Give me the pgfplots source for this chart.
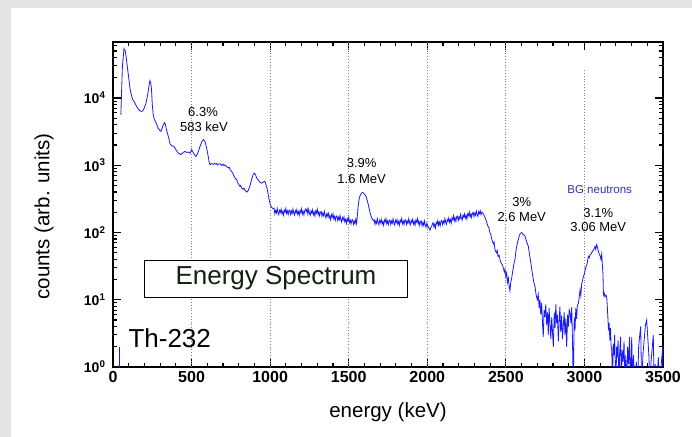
\documentclass[border=0pt]{standalone}
\usepackage{fontspec}
\setmainfont{Liberation Sans}
\usepackage{pgfplots}
\usepackage{pgfplotstable}
\pgfplotsset{compat=1.18}
\definecolor{spec}{RGB}{25,25,250}
\definecolor{bgn}{RGB}{50,50,190}
\definecolor{esp}{RGB}{15,35,15}
\definecolor{framegray}{RGB}{228,228,228}
\pgfplotstableread{
x y
50 5650
60 30000
70 54000
78 50000
84 40000
92 28000
100 20000
108 14000
115 11500
125 9500
135 8800
150 7500
165 6600
180 6300
190 6450
200 7200
210 8400
220 11000
228 14500
235 18100
240 17000
245 13500
250 8000
256 5600
263 4800
275 4200
288 3550
297 3300
305 3200
312 3500
320 3980
327 4300
333 4100
340 3400
346 3020
355 2500
363 2070
375 1950
388 1900
400 1700
416 1510
425 1480
431 1435
440 1500
450 1560
458 1610
468 1550
479 1570
490 1510
501 1700
508 1580
515 1470
522 1400
528 1350
536 1450
543 1610
550 1800
558 2020
566 2250
575 2400
585 2260
596 1800
606 1350
612 1100
617 1020
628 1060
638 1030
645 1070
650 1040
660 1060
665 1010
670 1040
681 1050
692 990
700 1040
707 980
713 1010
722 960
734 910
740 930
745 860
755 810
762 760
770 690
778 640
787 610
795 540
800 520
808 486
813 500
818 460
828 440
834 455
840 425
846 410
851 400
860 420
870 480
878 560
885 650
893 740
900 760
907 720
915 640
925 600
935 560
946 540
955 560
962 575
967 570
973 520
978 480
985 400
992 320
999 270
1004 250
1010 235
1015 230
1020 225
1025 230
1030 189
1035 211
1040 195
1045 228
1050 198
1055 184
1060 214
1065 200
1070 222
1075 190
1080 205
1085 181
1090 215
1095 201
1100 227
1105 191
1110 209
1115 185
1120 213
1125 216
1130 186
1135 208
1140 192
1145 224
1150 196
1155 182
1160 211
1165 197
1170 219
1175 187
1180 203
1185 179
1190 213
1195 198
1200 224
1205 188
1210 206
1215 182
1220 210
1225 222
1230 205
1235 225
1240 189
1245 221
1250 193
1255 179
1260 209
1265 195
1270 217
1275 184
1280 200
1285 176
1290 210
1295 196
1300 222
1305 185
1310 201
1315 177
1320 202
1325 204
1330 174
1335 194
1340 178
1345 205
1350 178
1355 164
1360 190
1365 176
1370 194
1375 165
1380 177
1385 155
1390 183
1395 169
1400 190
1405 159
1410 173
1415 152
1420 174
1425 177
1430 151
1435 168
1440 154
1445 179
1450 155
1455 143
1460 166
1465 154
1470 170
1475 144
1480 156
1485 136
1490 161
1495 149
1500 168
1505 140
1510 152
1515 134
1520 153
1525 155
1530 132
1535 147
1540 135
1545 157
1550 136
1555 180
1561 260
1568 330
1575 365
1582 385
1589 395
1596 380
1603 365
1610 345
1618 300
1626 250
1636 195
1646 165
1657 150
1662 154
1667 132
1672 148
1677 137
1682 160
1687 140
1692 130
1697 151
1702 141
1707 157
1712 134
1717 145
1722 128
1727 153
1732 143
1737 161
1742 135
1747 148
1752 131
1757 151
1762 154
1767 132
1772 148
1777 137
1782 160
1787 140
1792 130
1797 151
1802 141
1807 157
1812 134
1817 145
1822 128
1827 153
1832 143
1837 161
1842 135
1847 148
1852 131
1857 151
1862 154
1867 132
1872 148
1877 137
1882 160
1887 140
1892 130
1897 151
1902 141
1907 157
1912 134
1917 145
1922 128
1927 153
1932 143
1937 161
1942 135
1947 148
1952 127
1957 146
1962 148
1967 126
1972 140
1977 128
1982 149
1987 129
1992 119
1997 138
2002 125
2007 122
2012 115
2017 108
2022 118
2027 122
2032 133
2037 140
2042 121
2047 132
2052 117
2057 141
2062 133
2067 151
2072 128
2077 142
2082 126
2087 147
2092 151
2097 131
2102 147
2107 137
2112 161
2117 142
2122 133
2127 156
2132 147
2137 165
2142 142
2147 155
2152 137
2157 165
2162 155
2167 177
2172 149
2177 165
2182 147
2187 171
2192 175
2197 151
2202 171
2207 159
2212 186
2217 164
2222 153
2227 180
2232 169
2237 189
2242 163
2247 178
2252 158
2257 189
2262 178
2267 202
2272 171
2277 188
2282 167
2287 194
2292 199
2297 172
2302 194
2307 180
2312 208
2317 186
2322 174
2327 204
2332 191
2337 210
2342 184
2347 200
2352 195
2357 188
2362 178
2367 168
2374 153
2385 125
2392 118
2399 98
2405 92
2410 80
2420 68
2425 72
2431 55
2440 50
2445 54
2450 44
2457 46
2463 39
2470 35
2478 33
2485 29
2490 26
2494 28
2500 22
2505 25
2510 18
2516 21
2521 16
2526 13.5
2531 18
2537 21
2545 28
2552 35
2558 40
2565 55
2572 68
2579 78
2586 90
2593 97
2601 100
2608 94
2615 92
2622 88
2630 75
2637 68
2643 62
2650 48
2657 38
2665 28
2672 22
2678 18
2686 15.5
2692 12
2700 10
2706 12
2712 7.5
2717 10
2722 6
2728 9
2733 4.5
2738 2.8
2743 7
2748 5.5
2754 8.5
2760 4.2
2765 6.5
2770 3
2775 7.5
2780 4.8
2786 2.6
2792 5.5
2797 3.2
2802 2.0
2808 6.5
2813 3.8
2818 8.5
2823 4.5
2828 6.0
2834 2.4
2839 5.0
2844 7.9
2849 3.3
2855 5.8
2860 2.6
2866 4.3
2871 6.5
2876 3.0
2882 5.2
2887 2.0
2893 6.0
2898 4.0
2903 7.1
2908 6.5
2914 4.5
2919 7.8
2924 2.4
2929 0.5
2935 5.5
2940 3.5
2945 7.5
2950 5.2
2955 8.0
2961 8.9
2966 10.5
2972 14
2977 11.5
2982 17
2987 19
2993 22
3000 24.5
3008 30
3015 33
3020 38
3025 44
3030 42
3035 46
3042 48
3050 52
3057 55
3063 58
3067 62
3072 56
3078 66
3083 60
3089 52
3095 47
3100 45
3105 40
3110 48
3114 33
3118 24
3121 11.7
3126 12.5
3131 11.0
3137 11.7
3142 11
3146 7.5
3150 5
3153 3.5
3157 4.5
3162 2.5
3166 3.8
3170 2.0
3174 1.8
3178 0.5
3183 2.2
3188 1.5
3192 3.0
3196 1.2
3200 0.5
3205 2.0
3210 1.4
3214 2.5
3219 0.5
3224 1.6
3230 2.8
3235 0.5
3240 1.8
3246 1.2
3252 2.4
3258 0.5
3263 1.5
3270 0.5
3275 2.0
3281 1.1
3287 2.8
3292 0.5
3301 2.8
3306 0.5
3312 1.5
3320 0.5
3330 1.2
3338 0.5
3345 2.0
3352 3.0
3358 4.0
3364 0.5
3372 1.5
3380 2.5
3388 4.2
3396 5.0
3402 3.0
3410 1.5
3417 0.5
3424 1.2
3432 2.0
3438 3.0
3444 0.5
3450 1.1
3460 0.5
3470 1.4
3480 0.5
3490 1.2
3498 2.0
3500 0.5
}\spectrum
\begin{document}
\begin{tikzpicture}[x=1bp,y=1bp]
\fill[framegray] (0,0) rectangle (692,437);
\fill[white] (11,0) rectangle (692,429);
\begin{axis}[
  at={(113bp,70bp)}, anchor=south west,
  scale only axis, width=550bp, height=325bp,
  xmin=0, xmax=3500, ymode=log, ymin=1, ymax=68000,
  xtick={0,500,1000,1500,2000,2500,3000,3500},
  xticklabels={0,500,1000,1500,2000,2500,3000,3500},
  minor x tick num=4,
  ytick={1,10,100,1000,10000},
  yticklabels={10\textsuperscript{0},10\textsuperscript{1},10\textsuperscript{2},10\textsuperscript{3},10\textsuperscript{4}},
  minor ytick={2,3,4,5,6,7,8,9,20,30,40,50,60,70,80,90,200,300,400,500,600,700,800,900,2000,3000,4000,5000,6000,7000,8000,9000,20000,30000,40000,50000,60000},
  axis line style={line width=1.6bp},
  major tick length=8bp, minor tick length=4bp,
  every tick/.style={black, line width=1.1bp},
  xticklabel style={font=\bfseries\fontsize{16bp}{18bp}\selectfont, yshift=-1bp},
  yticklabel style={font=\bfseries\fontsize{14bp}{16bp}\selectfont, xshift=-4bp},
]
\draw[dotted, gray, line width=0.8bp] (axis cs:500,1) -- (axis cs:500,68000);
\draw[dotted, gray, line width=0.8bp] (axis cs:1000,1) -- (axis cs:1000,68000);
\draw[dotted, gray, line width=0.8bp] (axis cs:1500,1) -- (axis cs:1500,68000);
\draw[dotted, gray, line width=0.8bp] (axis cs:2000,1) -- (axis cs:2000,68000);
\draw[dotted, gray, line width=0.8bp] (axis cs:2500,1) -- (axis cs:2500,68000);
\draw[dotted, gray, line width=0.8bp] (axis cs:3000,1) -- (axis cs:3000,26000);
\addplot[spec, line width=0.8bp] coordinates {(40,0.5) (40,2)};
\addplot[spec, line width=0.8bp] table[x=x,y=y] {\spectrum};
\end{axis}
\tikzset{ann/.style={inner sep=0pt, font=\fontsize{13bp}{15bp}\selectfont}}
\node[ann] at (203,325) {6.3\%};
\node[ann] at (204,310) {583 keV};
\node[ann] at (361.7,273.7) {3.9\%};
\node[ann] at (361.7,257.7) {1.6 MeV};
\node[ann] at (521.7,235.3) {3\%};
\node[ann] at (521.7,219.7) {2.6 MeV};
\node[inner sep=0pt, font=\fontsize{11.5bp}{13bp}\selectfont, text=bgn] at (599.7,247.7) {BG neutrons};
\node[ann] at (598.3,224.3) {3.1\%};
\node[ann] at (598.3,209.7) {3.06 MeV};
\draw[line width=1bp, fill=white] (144,139.7) rectangle (407.7,176.3);
\node[inner sep=0pt, text=esp, font=\fontsize{26bp}{30bp}\selectfont] at (276,159) {Energy Spectrum};
\node[inner sep=0pt, anchor=base west, font=\fontsize{26bp}{30bp}\selectfont] at (128.3,89.7) {Th-232};
\node[inner sep=0pt, anchor=base, font=\fontsize{20.5bp}{24bp}\selectfont] at (388,19) {energy (keV)};
\node[inner sep=0pt, rotate=90, font=\fontsize{20.5bp}{24bp}\selectfont] at (44,220.5) {counts (arb. units)};
\pgfresetboundingbox
\path (0,0) rectangle (692,437);
\end{tikzpicture}
\end{document}
